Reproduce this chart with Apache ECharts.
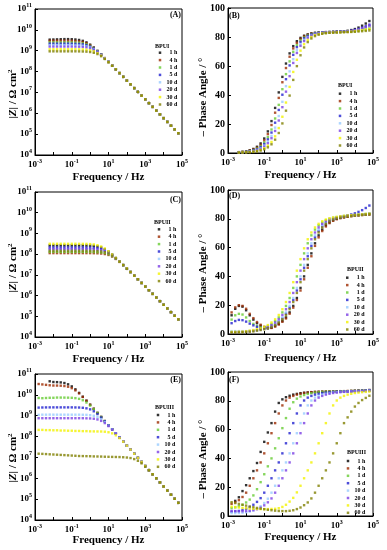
<!DOCTYPE html>
<html><head><meta charset="utf-8">
<script src="https://cdn.jsdelivr.net/npm/echarts@6/dist/echarts.min.js"></script>
<style>html,body{margin:0;padding:0;background:#fff}#c{width:387px;height:550px}</style>
</head><body><div id="c"></div>
<script>
// Frequency (Hz)
const FREQ = [0.00158,0.00251,0.00398,0.00631,0.01,0.0158,0.0251,0.0398,0.0631,0.1,0.158,0.251,0.398,0.631,1,1.58,2.51,3.98,6.31,10,15.8,25.1,39.8,63.1,100,158,251,398,631,1000,1585,2512,3981,6310,10000,15849,25119,39811,63096];
const NAMES = ['1 h','4 h','1 d','5 d','10 d','20 d','30 d','60 d'];
const COLORS = ['#000000','#9c2a00','#66cc33','#2020d0','#99ccff','#7b3fe4','#f2f200','#808000'];

// (A) BPUI |Z|
const A_1h = [null,null,null,3.4e9,3.45e9,3.5e9,3.55e9,3.6e9,3.6e9,3.55e9,3.45e9,3.28e9,2.97e9,2.51e9,1.95e9,1.42e9,9.84e8,6.65e8,4.44e8,2.93e8,1.94e8,1.28e8,8.45e7,5.58e7,3.69e7,2.44e7,1.61e7,1.06e7,7.03e6,4.65e6,3.07e6,2.03e6,1.34e6,8.85e5,5.85e5,3.86e5,2.55e5,1.69e5,1.11e5];
const A_4h = [null,null,null,3.02e9,3.02e9,3.02e9,3.02e9,3.02e9,3.0e9,2.98e9,2.93e9,2.82e9,2.62e9,2.28e9,1.84e9,1.37e9,9.6e8,6.56e8,4.39e8,2.92e8,1.94e8,1.28e8,8.45e7,5.58e7,3.69e7,2.44e7,1.61e7,1.06e7,7.03e6,4.65e6,3.07e6,2.03e6,1.34e6,8.85e5,5.85e5,3.86e5,2.55e5,1.69e5,1.11e5];
const A_1d = [null,null,null,2.51e9,2.51e9,2.51e9,2.51e9,2.51e9,2.51e9,2.49e9,2.45e9,2.40e9,2.26e9,2.04e9,1.70e9,1.31e9,9.42e8,6.49e8,4.37e8,2.91e8,1.94e8,1.28e8,8.45e7,5.58e7,3.69e7,2.44e7,1.61e7,1.06e7,7.03e6,4.65e6,3.07e6,2.03e6,1.34e6,8.85e5,5.85e5,3.86e5,2.55e5,1.69e5,1.11e5];
const A_5d = [null,null,null,2.19e9,2.19e9,2.19e9,2.19e9,2.19e9,2.19e9,2.17e9,2.15e9,2.11e9,2.02e9,1.85e9,1.59e9,1.26e9,9.23e8,6.43e8,4.36e8,2.90e8,1.94e8,1.28e8,8.45e7,5.58e7,3.69e7,2.44e7,1.61e7,1.06e7,7.03e6,4.65e6,3.07e6,2.03e6,1.34e6,8.85e5,5.85e5,3.86e5,2.55e5,1.69e5,1.11e5];
const A_10d = [null,null,null,1.82e9,1.82e9,1.82e9,1.82e9,1.82e9,1.82e9,1.81e9,1.80e9,1.77e9,1.72e9,1.61e9,1.43e9,1.17e9,8.89e8,6.31e8,4.32e8,2.90e8,1.94e8,1.28e8,8.45e7,5.58e7,3.69e7,2.44e7,1.61e7,1.06e7,7.03e6,4.65e6,3.07e6,2.03e6,1.34e6,8.85e5,5.85e5,3.86e5,2.55e5,1.69e5,1.11e5];
const A_20d = [null,null,null,1.58e9,1.58e9,1.58e9,1.58e9,1.58e9,1.58e9,1.58e9,1.57e9,1.55e9,1.52e9,1.45e9,1.31e9,1.10e9,8.55e8,6.18e8,4.28e8,2.88e8,1.94e8,1.28e8,8.45e7,5.58e7,3.69e7,2.44e7,1.61e7,1.06e7,7.03e6,4.65e6,3.07e6,2.03e6,1.34e6,8.85e5,5.85e5,3.86e5,2.55e5,1.69e5,1.11e5];
const A_30d = [null,null,null,1.17e9,1.17e9,1.17e9,1.17e9,1.17e9,1.17e9,1.17e9,1.17e9,1.16e9,1.15e9,1.11e9,1.05e9,9.35e8,7.67e8,5.83e8,4.16e8,2.84e8,1.91e8,1.28e8,8.45e7,5.58e7,3.69e7,2.44e7,1.61e7,1.06e7,7.03e6,4.65e6,3.07e6,2.03e6,1.34e6,8.85e5,5.85e5,3.86e5,2.55e5,1.69e5,1.11e5];
const A_60d = [null,null,null,9.33e8,9.33e8,9.33e8,9.33e8,9.33e8,9.33e8,9.33e8,9.33e8,9.27e8,9.18e8,9.02e8,8.65e8,7.96e8,6.90e8,5.45e8,4.0e8,2.79e8,1.89e8,1.26e8,8.45e7,5.58e7,3.69e7,2.44e7,1.61e7,1.06e7,7.03e6,4.65e6,3.07e6,2.03e6,1.34e6,8.85e5,5.85e5,3.86e5,2.55e5,1.69e5,1.11e5];

// (B) BPUI phase
const B_1h = [null,null,0.6,0.8,1.2,1.85,2.8,4.3,6.6,10.0,14.9,22.0,31.1,41.8,52.5,61.7,68.7,73.7,77.1,79.4,80.9,81.8,82.5,82.9,83.1,83.3,83.4,83.5,83.6,83.7,83.8,84.0,84.3,84.8,85.5,86.5,87.8,89.3,91.0];
const B_4h = [null,null,0.55,0.75,1.1,1.6,2.45,3.7,5.6,8.7,13.0,19.3,27.8,38.0,48.8,58.6,66.4,72.1,76.0,78.7,80.4,81.5,82.3,82.7,82.9,83.1,83.2,83.3,83.4,83.5,83.6,83.7,83.9,84.2,84.6,85.1,85.7,86.4,87.2];
const B_1d = [null,null,0.5,0.65,0.9,1.3,2.0,3.1,4.7,7.2,10.9,16.2,23.8,33.2,44.0,54.4,63.2,69.8,74.4,77.6,79.7,81.1,82.0,82.6,82.9,83.1,83.2,83.3,83.4,83.4,83.5,83.6,83.7,83.9,84.2,84.5,84.9,85.3,85.8];
const B_5d = [null,null,0.5,0.6,0.8,1.15,1.75,2.65,4.05,6.2,9.4,14.1,20.9,29.7,40.2,50.9,60.4,67.7,73.0,76.6,79.1,80.7,81.7,82.4,82.8,83.1,83.3,83.4,83.5,83.6,83.7,83.8,84.0,84.4,84.9,85.6,86.4,87.4,88.5];
const B_10d = [null,null,0.45,0.55,0.7,1.0,1.45,2.2,3.35,5.1,7.8,11.8,17.5,25.5,35.3,46.1,56.3,64.7,70.9,75.1,78.1,80.0,81.3,82.1,82.6,82.9,83.1,83.2,83.3,83.4,83.5,83.6,83.8,84.1,84.5,85.0,85.6,86.3,87.0];
const B_20d = [null,null,0.4,0.5,0.65,0.8,1.25,1.9,2.9,4.4,6.7,10.2,15.2,22.4,31.6,42.3,53.0,62.1,69.0,73.9,77.2,79.5,81.0,81.8,82.5,82.9,83.1,83.2,83.3,83.4,83.5,83.6,83.8,84.1,84.6,85.2,86.0,86.9,88.0];
const B_30d = [null,null,0.35,0.45,0.55,0.7,0.95,1.4,2.15,3.3,5.0,7.6,11.5,17.2,25.0,34.8,45.6,55.9,64.3,70.6,75.0,78.0,80.0,81.3,82.0,82.5,82.8,83.0,83.1,83.2,83.3,83.4,83.5,83.7,84.0,84.3,84.7,85.1,85.6];
const B_60d = [null,null,0.3,0.4,0.5,0.6,0.75,1.1,1.7,2.55,3.9,6.0,9.2,13.8,20.4,29.2,39.6,50.4,59.9,67.4,72.8,76.5,79.0,80.6,81.6,82.2,82.6,82.9,83.0,83.1,83.2,83.3,83.4,83.5,83.6,83.8,84.0,84.2,84.5];

// (C) BPUII |Z|
const C_1h = [null,null,null,2.63e8,2.63e8,2.63e8,2.63e8,2.63e8,2.63e8,2.63e8,2.63e8,2.63e8,2.63e8,2.61e8,2.57e8,2.50e8,2.36e8,2.10e8,1.74e8,1.32e8,9.46e7,6.50e7,4.37e7,3.0e7,2.05e7,1.37e7,9.16e6,6.11e6,4.07e6,2.72e6,1.81e6,1.21e6,8.05e5,5.37e5,3.58e5,2.39e5,1.59e5,1.06e5,7.08e4];
const C_4h = [null,null,null,1.12e8,1.12e8,1.12e8,1.12e8,1.12e8,1.12e8,1.12e8,1.12e8,1.12e8,1.12e8,1.12e8,1.12e8,1.11e8,1.10e8,1.07e8,1.01e8,9.14e7,7.62e7,5.86e7,4.21e7,2.90e7,1.95e7,1.37e7,9.16e6,6.11e6,4.07e6,2.72e6,1.81e6,1.21e6,8.05e5,5.37e5,3.58e5,2.39e5,1.59e5,1.06e5,7.08e4];
const C_1d = [null,null,null,1.29e8,1.29e8,1.29e8,1.29e8,1.29e8,1.29e8,1.29e8,1.29e8,1.29e8,1.29e8,1.29e8,1.28e8,1.27e8,1.25e8,1.21e8,1.14e8,9.93e7,8.05e7,6.04e7,4.27e7,2.92e7,1.95e7,1.37e7,9.16e6,6.11e6,4.07e6,2.72e6,1.81e6,1.21e6,8.05e5,5.37e5,3.58e5,2.39e5,1.59e5,1.06e5,7.08e4];
const C_5d = [null,null,null,2.09e8,2.09e8,2.09e8,2.09e8,2.09e8,2.09e8,2.09e8,2.09e8,2.09e8,2.09e8,2.07e8,2.06e8,2.02e8,1.95e8,1.80e8,1.56e8,1.25e8,9.2e7,6.44e7,4.39e7,3.0e7,2.04e7,1.37e7,9.16e6,6.11e6,4.07e6,2.72e6,1.81e6,1.21e6,8.05e5,5.37e5,3.58e5,2.39e5,1.59e5,1.06e5,7.08e4];
const C_10d = [null,null,null,1.58e8,1.58e8,1.58e8,1.58e8,1.58e8,1.58e8,1.58e8,1.58e8,1.58e8,1.58e8,1.58e8,1.57e8,1.56e8,1.52e8,1.45e8,1.32e8,1.11e8,8.65e7,6.27e7,4.34e7,2.93e7,1.95e7,1.37e7,9.16e6,6.11e6,4.07e6,2.72e6,1.81e6,1.21e6,8.05e5,5.37e5,3.58e5,2.39e5,1.59e5,1.06e5,7.08e4];
const C_20d = [null,null,null,1.78e8,1.78e8,1.78e8,1.78e8,1.78e8,1.78e8,1.78e8,1.78e8,1.78e8,1.78e8,1.77e8,1.76e8,1.74e8,1.69e8,1.60e8,1.43e8,1.17e8,8.9e7,6.35e7,4.36e7,2.93e7,2.0e7,1.37e7,9.16e6,6.11e6,4.07e6,2.72e6,1.81e6,1.21e6,8.05e5,5.37e5,3.58e5,2.39e5,1.59e5,1.06e5,7.08e4];
const C_30d = [null,null,null,3.16e8,3.16e8,3.16e8,3.16e8,3.16e8,3.16e8,3.16e8,3.16e8,3.15e8,3.14e8,3.12e8,3.06e8,2.94e8,2.71e8,2.34e8,1.87e8,1.38e8,9.64e7,6.55e7,4.38e7,3.0e7,2.06e7,1.37e7,9.16e6,6.11e6,4.07e6,2.72e6,1.81e6,1.21e6,8.05e5,5.37e5,3.58e5,2.39e5,1.59e5,1.06e5,7.08e4];
const C_60d = [null,null,null,1.45e8,1.45e8,1.45e8,1.45e8,1.45e8,1.45e8,1.45e8,1.45e8,1.45e8,1.45e8,1.45e8,1.44e8,1.42e8,1.40e8,1.34e8,1.24e8,1.07e8,8.41e7,6.18e7,4.32e7,2.94e7,1.96e7,1.37e7,9.16e6,6.11e6,4.07e6,2.72e6,1.81e6,1.21e6,8.05e5,5.37e5,3.58e5,2.39e5,1.59e5,1.06e5,7.08e4];

// (D) BPUII phase
const D_1h = [13,17.5,19.5,19,16.5,13,10,7.5,5.8,4.6,4.0,4.4,5.5,7.0,9.0,11.5,15,19.5,25,32,40,48,56,63,68.5,72.5,75.5,77.5,79,80,80.7,81.2,81.6,82,82.3,82.5,82.8,83.0,83.3];
const D_4h = [15,18.5,20,19.5,17.5,14,11,8.3,6.4,5.0,4.2,4.2,5.2,6.6,8.5,10.8,14.1,18.3,23.6,30.2,38,46,54,61.2,67.1,71.5,74.7,77,78.6,79.7,80.4,80.9,81.4,81.8,82.1,82.4,82.6,82.8,83.0];
const D_1d = [10,13,14,13.5,11.5,9,7,5.5,4.6,4.5,5.5,7.0,9.0,11.5,15,19.5,25,32,40,48,56,63,68.5,72.5,75.5,77.5,79,80,80.7,81.2,81.6,82,82.3,82.5,82.7,83,83.2,83.4,83.6];
const D_5d = [7.5,9,9.8,9.6,8.6,7.2,6.0,5.0,4.2,3.8,4.2,5.2,6.6,8.5,10.8,14.1,18.3,23.6,30.2,38,46,54,61.2,67.1,71.5,74.7,77,78.6,79.7,80.5,81.1,81.7,82.3,83.0,83.8,84.8,86.0,87.5,89.2];
const D_10d = [2.0,2.0,2.0,2.0,2.0,2.1,2.2,2.5,3.0,3.6,4.4,5.5,7.0,9.0,11.5,15,19.5,25,32,40,48,56,63,68.5,72.5,75.5,77.5,79,80,80.7,81.2,81.6,82,82.3,82.5,82.7,83,83.2,83.5];
const D_20d = [1.2,1.3,1.4,1.5,1.7,1.9,2.35,2.75,3.3,4.0,4.9,6.2,8.0,10.2,13.2,17.2,22.2,28.5,36,44,52,59.5,65.8,70.5,74,76.5,78.3,79.5,80.4,80.9,81.4,81.8,82.1,82.4,82.6,82.8,83.0,83.2,83.4];
const D_30d = [1.5,1.5,1.6,1.7,1.9,2.35,2.75,3.3,4.0,4.9,6.2,8.0,10.2,13.2,17.2,22.2,28.5,36,44,52,59.5,65.8,70.5,74,76.5,78.3,79.5,80.3,80.9,81.3,81.7,82.0,82.3,82.5,82.7,82.9,83.1,83.3,83.5];
const D_60d = [1.0,1.0,1.1,1.2,1.4,1.6,1.8,2.35,2.75,3.3,4.0,4.9,6.2,8.0,10.2,13.2,17.2,22.2,28.5,36,44,52,59.5,65.8,70.5,74,76.5,78.3,79.5,80.3,80.9,81.3,81.7,82.0,82.3,82.5,82.7,82.9,83.1];

// (E) BPUIII |Z|
const E_1h = [null,null,null,4.47e10,4.13e10,4.07e10,3.95e10,3.69e10,3.2e10,2.54e10,1.84e10,1.24e10,8.13e9,5.25e9,3.36e9,2.14e9,1.36e9,8.69e8,5.53e8,3.52e8,2.24e8,1.43e8,9.10e7,5.79e7,3.69e7,2.35e7,1.50e7,9.53e6,6.07e6,3.86e6,2.46e6,1.57e6,9.98e5,6.35e5,4.05e5,2.58e5,1.64e5,1.04e5,6.65e4];
const E_4h = [3.31e10,3.16e10,3.02e10,2.88e10,2.80e10,2.79e10,2.75e10,2.65e10,2.45e10,2.10e10,1.64e10,1.18e10,7.93e9,5.19e9,3.34e9,2.14e9,1.36e9,8.69e8,5.53e8,3.52e8,2.24e8,1.43e8,9.10e7,5.79e7,3.69e7,2.35e7,1.50e7,9.53e6,6.07e6,3.86e6,2.46e6,1.57e6,9.98e5,6.35e5,4.05e5,2.58e5,1.64e5,1.04e5,6.65e4];
const E_1d = [7.08e9,6.92e9,7.08e9,7.24e9,7.24e9,7.41e9,7.41e9,7.38e9,7.33e9,7.23e9,6.97e9,6.44e9,5.52e9,4.30e9,3.06e9,2.06e9,1.34e9,8.63e8,5.53e8,3.52e8,2.24e8,1.43e8,9.10e7,5.79e7,3.69e7,2.35e7,1.50e7,9.53e6,6.07e6,3.86e6,2.46e6,1.57e6,9.98e5,6.35e5,4.05e5,2.58e5,1.64e5,1.04e5,6.65e4];
const E_5d = [2.45e9,2.48e9,2.5e9,2.51e9,2.51e9,2.51e9,2.51e9,2.51e9,2.51e9,2.51e9,2.49e9,2.47e9,2.40e9,2.26e9,2.02e9,1.63e9,1.20e9,8.18e8,5.40e8,3.49e8,2.24e8,1.43e8,9.10e7,5.79e7,3.69e7,2.35e7,1.50e7,9.53e6,6.07e6,3.86e6,2.46e6,1.57e6,9.98e5,6.35e5,4.05e5,2.58e5,1.64e5,1.04e5,6.65e4];
const E_10d = [1.1e9,1.12e9,1.12e9,1.13e9,1.12e9,1.12e9,1.12e9,1.12e9,1.12e9,1.12e9,1.12e9,1.12e9,1.11e9,1.10e9,1.06e9,9.93e8,8.63e8,6.87e8,4.97e8,3.36e8,2.20e8,1.42e8,9.10e7,5.79e7,3.69e7,2.35e7,1.50e7,9.53e6,6.07e6,3.86e6,2.46e6,1.57e6,9.98e5,6.35e5,4.05e5,2.58e5,1.64e5,1.04e5,6.65e4];
const E_20d = [7.59e8,7.59e8,7.59e8,7.59e8,7.59e8,7.59e8,7.59e8,7.59e8,7.59e8,7.59e8,7.59e8,7.59e8,7.59e8,7.50e8,7.40e8,7.14e8,6.61e8,5.66e8,4.43e8,3.18e8,2.14e8,1.40e8,9.04e7,5.79e7,3.69e7,2.35e7,1.50e7,9.53e6,6.07e6,3.86e6,2.46e6,1.57e6,9.98e5,6.35e5,4.05e5,2.58e5,1.64e5,1.04e5,6.65e4];
const E_30d = [2.09e8,2.09e8,2.04e8,2.04e8,2.0e8,2.0e8,1.95e8,1.95e8,1.91e8,1.91e8,1.86e8,1.86e8,1.82e8,1.82e8,1.78e8,1.77e8,1.76e8,1.75e8,1.71e8,1.61e8,1.43e8,1.15e8,8.41e7,5.69e7,3.67e7,2.36e7,1.50e7,9.53e6,6.07e6,3.86e6,2.46e6,1.57e6,9.98e5,6.35e5,4.05e5,2.58e5,1.64e5,1.04e5,6.65e4];
const E_60d = [1.51e7,1.48e7,1.45e7,1.41e7,1.38e7,1.35e7,1.32e7,1.29e7,1.26e7,1.23e7,1.20e7,1.17e7,1.16e7,1.15e7,1.14e7,1.12e7,1.11e7,1.10e7,1.08e7,1.07e7,1.06e7,1.05e7,1.04e7,1.02e7,9.89e6,9.33e6,8.32e6,6.89e6,5.21e6,3.61e6,2.40e6,1.55e6,1.0e6,6.35e5,4.05e5,2.58e5,1.64e5,1.04e5,6.65e4];

// (F) BPUIII phase
const F_1h = [null,10.5,13,17.3,21.4,26.2,31.2,36.8,44.5,51.5,58,64.5,72.5,78.5,81,82.5,83.5,84.3,84.8,85.3,85.6,85.8,86,86.1,86.2,86.3,86.3,86.4,86.4,86.5,86.5,86.6,86.7,86.8,86.9,87.0,87.1,87.3,87.5];
const F_4h = [8.5,9.5,11.0,13.2,16.2,21,26.2,31.7,37.2,43.5,50.5,57.5,64.5,71.2,76.8,80.2,82.2,83.4,84.3,84.9,85.4,85.7,86.0,86.2,86.3,86.4,86.5,86.5,86.6,86.6,86.7,86.7,86.8,86.9,87.0,87.1,87.2,87.3,87.4];
const F_1d = [5.5,6.0,6.8,7.8,9.4,11.4,14.3,18.6,23.5,29,34.5,40,47,54,61,68,74.5,79,81.5,83,84,84.8,85.3,85.7,86.0,86.2,86.3,86.4,86.5,86.5,86.6,86.7,86.7,86.8,86.9,87.0,87.1,87.2,87.3];
const F_5d = [3.0,3.2,3.5,4.1,5.0,6.2,7.8,9.8,12.4,16.2,21.0,26.2,31.7,37.2,43.5,50.5,57.5,64.5,71.2,76.8,80.2,82.2,83.4,84.3,84.9,85.4,85.7,86.0,86.2,86.3,86.4,86.5,86.6,86.7,86.8,86.9,87.0,87.1,87.2];
const F_10d = [2.0,2.0,2.1,2.3,2.6,3.1,3.9,5.0,6.8,9.0,12.0,16.2,21.0,26.2,31.7,37.2,43.5,50.5,57.5,64.5,71.2,76.8,80.2,82.2,83.4,84.3,84.9,85.4,85.7,86.0,86.2,86.3,86.4,86.5,86.6,86.7,86.8,86.9,87.0];
const F_20d = [3.5,3.4,3.3,3.3,3.4,3.6,4.0,4.7,5.8,7.4,9.5,12.2,16.2,21,26.2,31.7,37.2,43.5,50.5,57.5,64.5,71.2,76.8,80.2,82.2,83.4,84.3,84.9,85.4,85.7,86.0,86.2,86.3,86.4,86.5,86.6,86.7,86.8,87.0];
const F_30d = [6.5,6.2,5.9,5.6,5.4,5.2,5.0,4.9,4.8,4.8,4.8,4.9,5.0,5.4,6.3,7.8,10.0,12.6,16.4,21.0,26.2,31.7,37.2,43.5,50.5,57.5,64.5,71.2,76.8,80.2,82.2,83.4,84.3,84.9,85.4,85.7,86.0,86.2,86.4];
const F_60d = [9.6,9.0,8.4,7.8,7.2,6.6,6.1,5.6,5.1,4.7,4.3,4.0,3.7,3.5,3.4,3.4,3.6,4.0,4.8,5.9,7.5,9.4,12.2,16.2,21,26.2,31.7,37.2,43.5,50.5,57.5,64.5,68.5,72.5,76,78.5,80.5,82,83.5];

const FONT = 'Liberation Serif';
const PANELS = [
  {sets:[A_1h,A_4h,A_1d,A_5d,A_10d,A_20d,A_30d,A_60d], kind:'z', tag:'BPUI', letter:'(A)'},
  {sets:[B_1h,B_4h,B_1d,B_5d,B_10d,B_20d,B_30d,B_60d], kind:'p', tag:'BPUI', letter:'(B)'},
  {sets:[C_1h,C_4h,C_1d,C_5d,C_10d,C_20d,C_30d,C_60d], kind:'z', tag:'BPUII', letter:'(C)'},
  {sets:[D_1h,D_4h,D_1d,D_5d,D_10d,D_20d,D_30d,D_60d], kind:'p', tag:'BPUII', letter:'(D)'},
  {sets:[E_1h,E_4h,E_1d,E_5d,E_10d,E_20d,E_30d,E_60d], kind:'z', tag:'BPUIII', letter:'(E)'},
  {sets:[F_1h,F_4h,F_1d,F_5d,F_10d,F_20d,F_30d,F_60d], kind:'p', tag:'BPUIII', letter:'(F)'}
];
// layout (pixels)
const LAYOUT = [
  {box:[35,9,147,146], legend:[158.75,49], tagPos:[155,46], letterPos:[181,15,'right'], yName:[13,94], xGap:17},
  {box:[228,8,145,145], legend:[338.75,90], tagPos:[338,85.5], letterPos:[229,16,'left'], yName:[203,97], xGap:17},
  {box:[35,192,147,145], legend:[157.75,225.6], tagPos:[154,222.5], letterPos:[181,200,'right'], yName:[13,268], xGap:17},
  {box:[228,190,145,144], legend:[346,274], tagPos:[347,269.5], letterPos:[229,196,'left'], yName:[203,273], xGap:19},
  {box:[35,374,147,146], legend:[156.75,411.3], tagPos:[155,407], letterPos:[181,380,'right'], yName:[13,458], xGap:15},
  {box:[228,372,145,144], legend:[346.75,457.3], tagPos:[347,452.5], letterPos:[229,380,'left'], yName:[203,459], xGap:16}
];

const SUP_RICH = {
  b: {fontFamily: FONT, fontWeight: 'bold', fontSize: 9, lineHeight: 13, color: '#000'},
  s: {fontFamily: FONT, fontWeight: 'bold', fontSize: 6, lineHeight: 6, verticalAlign: 'top', color: '#000'}
};
function powLabel(v, oddOnly) {
  const e = Math.round(Math.log10(v));
  if (oddOnly && e % 2 === 0) return '';
  return '{b|10}{s|' + e + '}';
}
function pairs(arr) {
  const out = [];
  for (let i = 0; i < FREQ.length; i++) if (arr[i] != null) out.push([FREQ[i], arr[i]]);
  return out;
}

const grid = [], xAxis = [], yAxis = [], series = [], legend = [], graphic = [];
PANELS.forEach((p, gi) => {
  const L = LAYOUT[gi];
  grid.push({left: L.box[0], top: L.box[1], width: L.box[2], height: L.box[3], show: true, borderColor: '#000', borderWidth: 1, containLabel: false});
  xAxis.push({
    type: 'log', logBase: 10, min: 1e-3, max: 1e5, gridIndex: gi,
    axisLine: {lineStyle: {color: '#000', width: 1}},
    axisTick: {inside: true, length: 3, lineStyle: {color: '#000'}},
    splitLine: {show: false},
    axisLabel: {margin: 3, formatter: v => powLabel(v, true), rich: SUP_RICH, color: '#000'},
    name: 'Frequency / Hz', nameLocation: 'middle', nameGap: L.xGap,
    nameTextStyle: {fontFamily: FONT, fontWeight: 'bold', fontSize: 11, color: '#000'}
  });
  if (p.kind === 'z') {
    yAxis.push({
      type: 'log', logBase: 10, min: 1e4, max: 1e11, gridIndex: gi,
      axisLine: {lineStyle: {color: '#000', width: 1}},
      axisTick: {inside: true, length: 3, lineStyle: {color: '#000'}},
      splitLine: {show: false},
      axisLabel: {margin: 3, formatter: v => powLabel(v, false), rich: SUP_RICH, color: '#000'}
    });
  } else {
    yAxis.push({
      type: 'value', min: 0, max: 100, interval: 20, gridIndex: gi,
      axisLine: {lineStyle: {color: '#000', width: 1}},
      axisTick: {inside: true, length: 3, lineStyle: {color: '#000'}},
      splitLine: {show: false},
      axisLabel: {margin: 3, fontFamily: FONT, fontWeight: 'bold', fontSize: 10, color: '#000'}
    });
  }
  p.sets.forEach((arr, si) => {
    series.push({
      type: 'scatter', name: NAMES[si], xAxisIndex: gi, yAxisIndex: gi,
      data: pairs(arr), symbol: 'rect', symbolSize: 2.4,
      itemStyle: {color: COLORS[si]}, silent: true, animation: false
    });
  });
  legend.push({
    left: L.legend[0], top: L.legend[1], orient: 'vertical', data: NAMES, selectedMode: false,
    icon: 'rect', itemWidth: 2.5, itemHeight: 2.5, itemGap: 0, padding: 0,
    formatter: n => '{n|' + n + '}',
    textStyle: {fontFamily: FONT, fontWeight: 'bold', fontSize: 6, lineHeight: 7.4, color: '#000',
      rich: {n: {width: 11, align: 'right', fontFamily: FONT, fontWeight: 'bold', fontSize: 6, lineHeight: 7.4, color: '#000'}}}
  });
  graphic.push({type: 'text', x: L.tagPos[0], y: L.tagPos[1], silent: true,
    style: {text: p.tag, fontFamily: FONT, fontWeight: 'bold', fontSize: 6, fill: '#000', align: 'left', verticalAlign: 'middle'}});
  graphic.push({type: 'text', x: L.letterPos[0], y: L.letterPos[1], silent: true,
    style: {text: p.letter, fontFamily: FONT, fontWeight: 'bold', fontSize: 8, fill: '#000', align: L.letterPos[2], verticalAlign: 'middle'}});
  const yText = p.kind === 'z' ? '|{i|Z}| / \u03a9 cm{s|2}' : '\u2013 Phase Angle / \u00b0';
  graphic.push({type: 'text', x: L.yName[0], y: L.yName[1], rotation: Math.PI / 2, silent: true,
    style: {text: yText, fontFamily: FONT, fontWeight: 'bold', fontSize: 11, lineHeight: 13, fill: '#000', align: 'center', verticalAlign: 'middle',
      rich: {
        i: {fontFamily: FONT, fontWeight: 'bold', fontStyle: 'italic', fontSize: 11, lineHeight: 13, fill: '#000'},
        s: {fontFamily: FONT, fontWeight: 'bold', fontSize: 7, lineHeight: 7, verticalAlign: 'top', fill: '#000'}
      }}});
});

const chart = echarts.init(document.getElementById('c'), null, {renderer: 'canvas'});
chart.setOption({animation: false, backgroundColor: '#fff', grid, xAxis, yAxis, series, legend, graphic});
</script>
</body></html>
